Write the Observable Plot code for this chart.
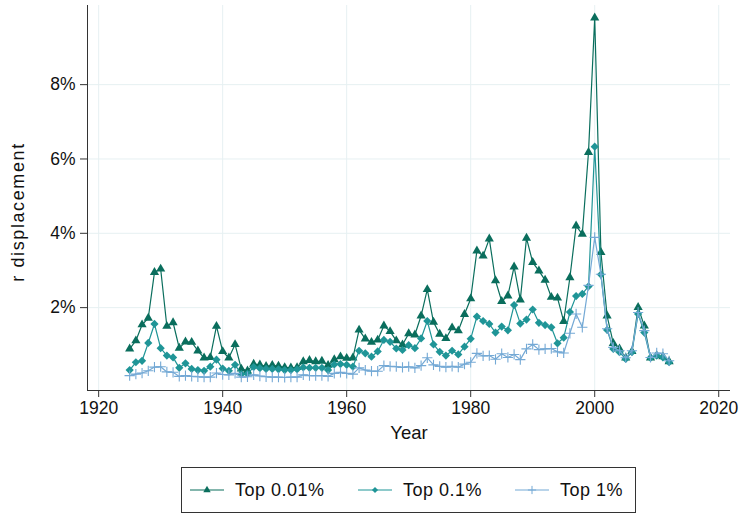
<!DOCTYPE html>
<html><head><meta charset="utf-8">
<script src="https://cdn.jsdelivr.net/npm/d3@7"></script>
<script src="https://cdn.jsdelivr.net/npm/@observablehq/plot@0.6"></script>
<style>
body{margin:0;background:#fff;font-family:"Liberation Sans",Arial,Helvetica,sans-serif;}
#chart{position:absolute;left:0;top:0;}
#legend{position:absolute;left:181px;top:467px;width:453px;height:44px;border:1px solid #333;font-size:18px;color:#111;letter-spacing:0.5px;}
#legend .it{position:absolute;top:0;height:44px;display:flex;align-items:center;}
#legend .txt{position:absolute;top:12px;line-height:21px;}
</style></head><body>
<div id="chart"></div>
<div id="legend"></div>
<script>
const years = d3.range(1925, 2013);
const seriesNames = ["Top 0.01%", "Top 0.1%", "Top 1%"];
const colors = ["#0a6e5d", "#1f9597", "#74a9d5"];
const symbols = ["triangle", "diamond2", "plus"];
const top001 = [0.89,1.11,1.54,1.72,2.95,3.04,1.50,1.60,0.91,1.08,1.07,0.84,0.65,0.66,1.50,0.82,0.65,1.01,0.35,0.30,
  0.48,0.46,0.42,0.45,0.43,0.39,0.38,0.39,0.55,0.58,0.55,0.56,0.45,0.60,0.68,0.64,0.65,1.40,1.16,1.07,
  1.13,1.51,1.36,1.11,1.00,1.30,1.27,1.78,2.49,1.61,1.29,1.17,1.46,1.38,1.82,2.24,3.53,3.39,3.85,2.73,
  2.17,2.32,3.10,2.21,3.87,3.22,2.99,2.74,2.28,2.26,1.63,2.81,4.20,3.98,6.18,9.80,3.49,1.78,1.04,0.89,
  0.65,0.82,2.01,1.51,0.65,0.71,0.68,0.55];
const top01 = [0.32,0.53,0.57,1.05,1.56,0.91,0.71,0.66,0.38,0.50,0.35,0.32,0.30,0.41,0.60,0.36,0.30,0.46,0.21,0.22,
  0.40,0.37,0.35,0.35,0.34,0.32,0.32,0.34,0.39,0.38,0.38,0.38,0.32,0.47,0.48,0.46,0.41,0.84,0.77,0.68,
  0.82,1.13,1.08,0.90,0.86,0.99,0.91,1.17,1.64,1.01,0.81,0.71,0.84,0.74,0.95,1.16,1.76,1.64,1.56,1.33,
  1.49,1.39,2.07,1.57,1.68,1.95,1.59,1.53,1.47,1.04,1.19,1.88,2.31,2.37,2.57,6.33,2.89,1.40,0.89,0.80,
  0.62,0.80,1.83,1.33,0.65,0.71,0.66,0.53];
const top1 = [0.17,0.21,0.24,0.30,0.40,0.41,0.27,0.26,0.15,0.17,0.15,0.14,0.13,0.13,0.24,0.20,0.19,0.23,0.13,0.14,
  0.19,0.16,0.14,0.13,0.13,0.12,0.13,0.13,0.19,0.17,0.17,0.17,0.15,0.23,0.26,0.23,0.21,0.38,0.32,0.29,
  0.29,0.44,0.42,0.41,0.39,0.41,0.38,0.44,0.65,0.46,0.42,0.40,0.42,0.40,0.48,0.53,0.77,0.70,0.71,0.61,
  0.76,0.66,0.74,0.60,0.89,1.01,0.87,0.89,0.90,0.81,0.78,1.31,1.83,1.47,2.60,3.89,2.90,1.43,0.93,0.84,
  0.65,0.84,1.87,1.38,0.66,0.78,0.76,0.57];
const yTicks = [2, 4, 6, 8];
const xTicks = [1920, 1940, 1960, 1980, 2000, 2020];

const seriesData = [top001, top01, top1].map(vals => years.map((year, i) => ({year, value: vals[i]})));

const marks = [
  Plot.gridX(xTicks, {stroke: "#e6f0f2", strokeOpacity: 1, strokeWidth: 1}),
  Plot.gridY(yTicks, {stroke: "#e6f0f2", strokeOpacity: 1, strokeWidth: 1}),
  Plot.axisY(yTicks, {tickFormat: d => d + "%", tickSize: 7, tickPadding: 5, fontSize: 17.5, label: null, stroke: "#333"}),
  Plot.axisX(xTicks, {tickFormat: d => String(d), tickSize: 7, tickPadding: 4, fontSize: 17.5, label: null, stroke: "#333"}),
  Plot.ruleX([1918.2], {stroke: "#333", strokeWidth: 1}),
  Plot.ruleY([-0.23], {stroke: "#333", strokeWidth: 1}),
  Plot.text(["r displacement"], {frameAnchor: "left", textAnchor: "middle", text: d => d, rotate: -90, dx: -69, dy: 14, fontSize: 18, fill: "#111"}),
  Plot.text(["Year"], {frameAnchor: "bottom", text: d => d, dy: 48, fontSize: 18.5, fill: "#111"})
];
seriesData.forEach((data, k) => {
  marks.push(Plot.line(data, {x: "year", y: "value", stroke: colors[k], strokeWidth: 1.2}));
  if (symbols[k] === "plus") {
    marks.push(Plot.dot(data, {x: "year", y: "value", symbol: "plus", r: 3.4, stroke: colors[k], strokeWidth: 1.1, fill: "none"}));
  } else {
    marks.push(Plot.dot(data, {x: "year", y: "value", symbol: symbols[k], r: symbols[k] === "triangle" ? 3.4 : 3.7, fill: colors[k], stroke: "none"}));
  }
});

const chart = Plot.plot({
  width: 741,
  height: 450,
  marginLeft: 87,
  marginRight: 11,
  marginTop: 5,
  marginBottom: 60,
  style: {fontFamily: '"Liberation Sans", Arial, Helvetica, sans-serif', fontSize: "17.5px", color: "#111", background: "#fff"},
  x: {domain: [1918.2, 2021.9]},
  y: {domain: [-0.23, 10.13]},
  marks
});
document.getElementById("chart").appendChild(chart);
chart.querySelectorAll("text").forEach(t => { if (t.textContent === "r displacement") t.setAttribute("letter-spacing", "1.6"); });

// legend
const legend = d3.select("#legend");
const iconX = [8, 176, 333];
const textX = [53, 221, 378];
seriesNames.forEach((name, k) => {
  const it = legend.append("div").attr("class", "it").style("left", iconX[k] + "px");
  const svg = it.append("svg").attr("width", 34).attr("height", 12);
  svg.append("line").attr("x1", 0).attr("x2", 34).attr("y1", 6).attr("y2", 6).attr("stroke", colors[k]).attr("stroke-width", 1.2);
  const sym = symbols[k] === "triangle" ? d3.symbolTriangle : symbols[k] === "diamond2" ? d3.symbolDiamond2 : d3.symbolPlus;
  const p = svg.append("path").attr("transform", "translate(17,6)").attr("d", d3.symbol(sym, 24)());
  if (symbols[k] === "plus") p.attr("fill", "none").attr("stroke", colors[k]).attr("stroke-width", 1);
  else p.attr("fill", colors[k]);
  legend.append("div").attr("class", "txt").style("left", textX[k] + "px").text(name);
});
</script>
</body></html>
